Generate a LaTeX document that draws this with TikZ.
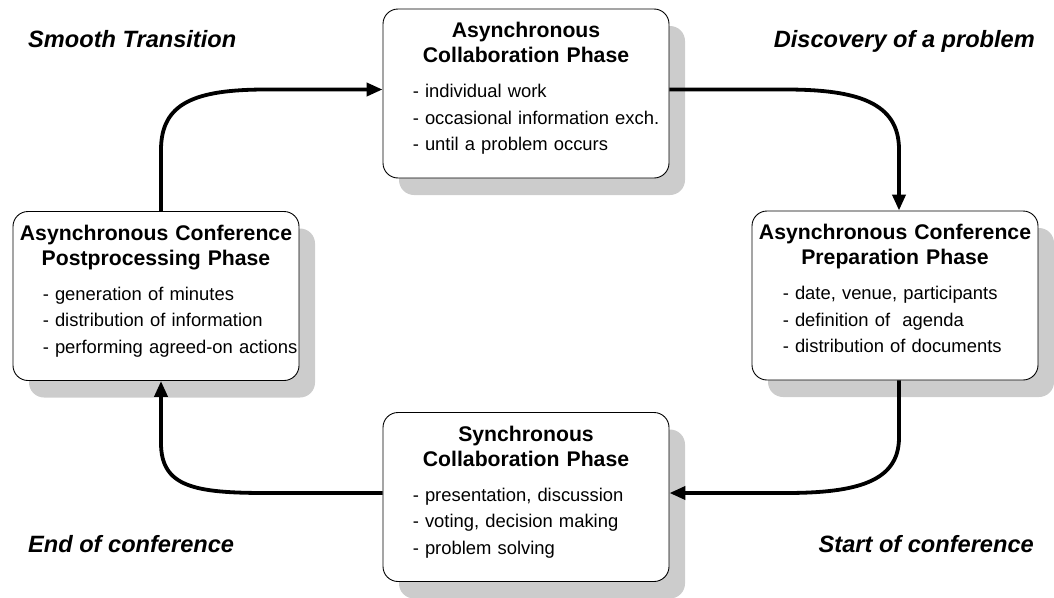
\documentclass[tikz,border=0pt]{standalone}
\usepackage{fontspec}
\setmainfont{Liberation Sans}
\usetikzlibrary{arrows.meta,shadows,calc}

\tikzset{
  phase/.style={draw=black, line width=0.9pt, fill=white, rounded corners=15pt,
    minimum width=286pt, minimum height=169pt, inner sep=0pt,
    drop shadow={shadow xshift=16pt, shadow yshift=-17pt, fill=black!20, opacity=1}},
  phasetitle/.style={anchor=base, inner sep=0pt, text width=286pt, align=center,
    font=\bfseries\fontsize{21.2}{25}\selectfont},
  phaseitems/.style={anchor=base west, inner sep=0pt, text width=262pt, align=left,
    font=\fontsize{18.4}{26.7}\selectfont},
  event/.style={inner sep=0pt, font=\bfseries\itshape\fontsize{23.6}{28}\selectfont},
  flow/.style={line width=3.8pt, -{Triangle[length=16pt,width=13pt]}},
}

\begin{document}
\begin{tikzpicture}[x=1pt, y=-1pt]
\useasboundingbox (0,0) rectangle (1054,597);

% the four phases of the cycle
\node[phase] (acp)  at (526,93.5) {};
\node[phase] (prep) at (895,295.5) {};
\node[phase] (sync) at (526,497) {};
\node[phase] (post) at (156,296) {};

\node[phasetitle] (acpT) at ($(acp.north)+(0,29)$) {Asynchronous\\Collaboration Phase};
\node[phaseitems] (acpL) at ($(acp.north west)+(30,89)$)
  {- individual work\\- occasional information exch.\\- until a problem occurs};

\node[phasetitle] (prepT) at ($(prep.north)+(0,29)$) {Asynchronous Conference\\Preparation Phase};
\node[phaseitems] (prepL) at ($(prep.north west)+(31,89)$)
  {- date, venue, participants\\- definition of\ \ agenda\\- distribution of documents};

\node[phasetitle] (syncT) at ($(sync.north)+(0,29)$) {Synchronous\\Collaboration Phase};
\node[phaseitems] (syncL) at ($(sync.north west)+(30,89)$)
  {- presentation, discussion\\- voting, decision making\\- problem solving};

\node[phasetitle] (postT) at ($(post.north)+(0,29)$) {Asynchronous Conference\\Postprocessing Phase};
\node[phaseitems] (postL) at ($(post.north west)+(30,89)$)
  {- generation of minutes\\- distribution of information\\- performing agreed-on actions};

% transition labels in the corners
\node[event, anchor=base west] (smooth) at (28,47) {Smooth Transition};
\node[event, anchor=base east] (disc)   at (1035,47) {Discovery of a problem};
\node[event, anchor=base west] (endc)   at (28,552) {End of conference};
\node[event, anchor=base east] (startc) at (1034,552) {Start of conference};

% attachment points of the connectors
\coordinate (postOut) at ([xshift=5pt]post.north);
\coordinate (acpIn)   at ([yshift=4pt]acp.west);
\coordinate (acpOut)  at ([yshift=4pt]acp.east);
\coordinate (prepIn)  at ([xshift=4pt]prep.north);
\coordinate (prepOut) at ([xshift=4pt]prep.south);
\coordinate (syncIn)  at ([yshift=4pt]sync.east);
\coordinate (syncOut) at ([yshift=4pt]sync.west);
\coordinate (postIn)  at ([xshift=5pt]post.south);

% the cycle
\draw[flow] (postOut) -- ++(0,-61) .. controls +(0,-47) and +(-72,0) .. ($(acpIn)+(-116,0)$) -- (acpIn);
\draw[flow] (acpOut) -- ++(116,0) .. controls +(72,0) and +(0,-47) .. ($(prepIn)+(0,-61)$) -- (prepIn);
\draw[flow] (prepOut) -- ++(0,57) .. controls +(0,44) and +(72,0) .. ($(syncIn)+(116,0)$) -- (syncIn);
\draw[flow] (syncOut) -- ++(-116,0) .. controls +(-72,0) and +(0,44) .. ($(postIn)+(0,62)$) -- (postIn);
\end{tikzpicture}
\end{document}
